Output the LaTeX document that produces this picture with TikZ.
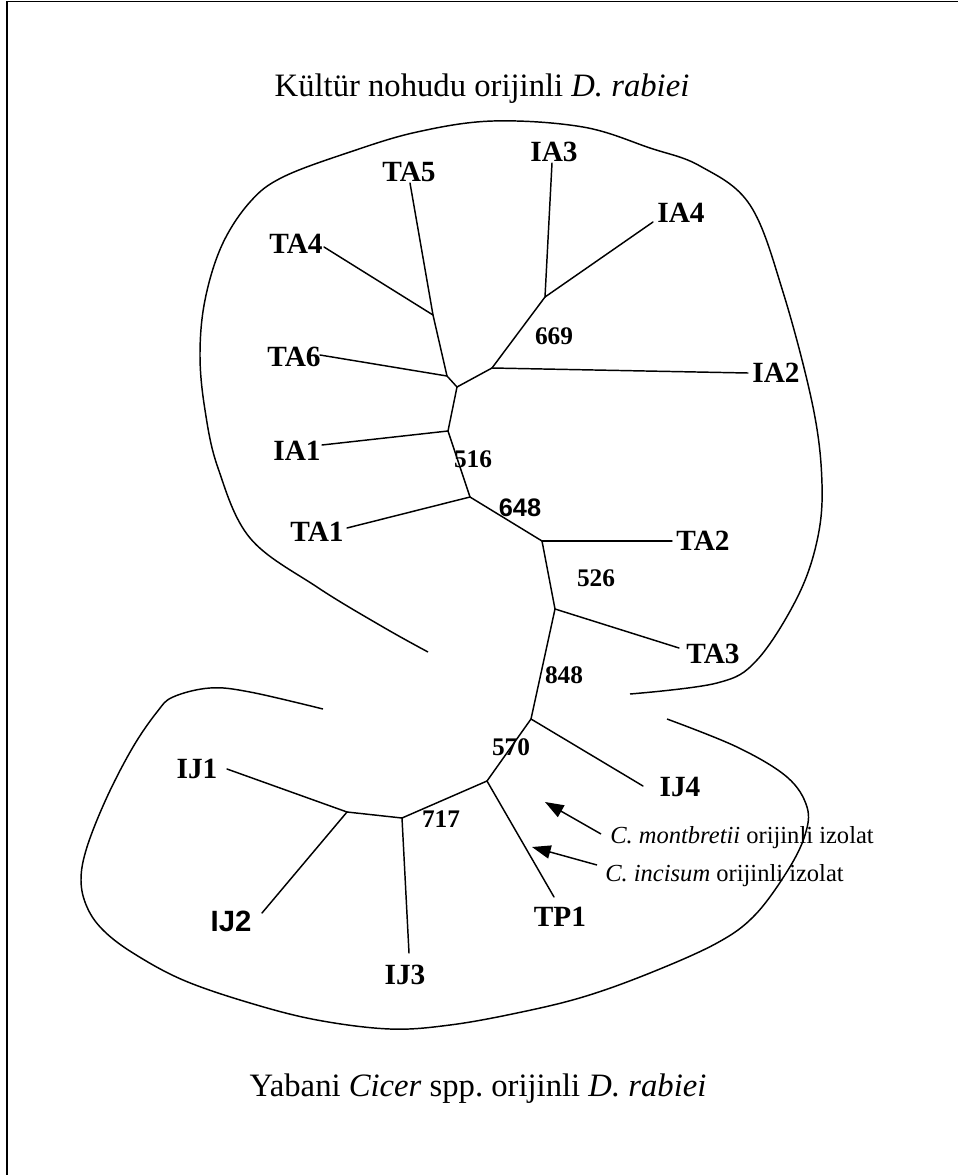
\documentclass[tikz,border=0pt]{standalone}
\usepackage{fontspec}
\setmainfont{Liberation Serif}
\newfontfamily\sansf{Liberation Sans}
\usetikzlibrary{arrows.meta}
\begin{document}
\begin{tikzpicture}[x=0.75pt,y=-0.75pt,
  edge/.style={line width=1.1pt, line cap=round},
  lab/.style={font=\fontsize{22}{24}\selectfont\bfseries, inner sep=0pt},
  labsans/.style={font=\fontsize{22}{24}\selectfont\sansf\bfseries, inner sep=0pt},
  num/.style={font=\fontsize{19}{21}\selectfont\bfseries, inner sep=0pt},
  numsans/.style={font=\fontsize{19}{21}\selectfont\sansf\bfseries, inner sep=0pt},
  ttl/.style={font=\fontsize{24.5}{27}\selectfont, inner sep=0pt, anchor=base},
  note/.style={font=\fontsize{18.4}{20}\selectfont, inner sep=0pt, anchor=base west},
  hull/.style={line width=1.1pt},
  pointer/.style={line width=1.1pt, -{Triangle[length=14pt,width=10pt]}}
]
\useasboundingbox (0,0) rectangle (958,1175);
\fill[white] (0,0) rectangle (958,1175);
% frame
\draw[line width=1pt] (7,1175) -- (7,1.5) -- (958,1.5);

% titles
\node[ttl] (top) at (482,96) {Kültür nohudu orijinli \textit{D. rabiei}};
\node[ttl] (bottom) at (478,1096) {Yabani \textit{Cicer} spp.\ orijinli \textit{D. rabiei}};

% junctions
\coordinate (J1) at (433,315);
\coordinate (J2) at (447,376);
\coordinate (J3) at (457,387);
\coordinate (J4) at (492,368);
\coordinate (J5) at (545,297);
\coordinate (J6) at (448,431);
\coordinate (J7) at (470,497);
\coordinate (J8) at (542,541);
\coordinate (J9) at (555,609);
\coordinate (J10) at (531,719);
\coordinate (J11) at (487,781);
\coordinate (J12) at (402,818);
\coordinate (J13) at (347,812);

% leaf tips
\coordinate (tTA5) at (410,183);
\coordinate (tTA4) at (324,247);
\coordinate (tTA6) at (320,355);
\coordinate (tIA3) at (552,163);
\coordinate (tIA4) at (653,222);
\coordinate (tIA2) at (748,373);
\coordinate (tIA1) at (322,445);
\coordinate (tTA1) at (347,528);
\coordinate (tTA2) at (672,541);
\coordinate (tTA3) at (679,648);
\coordinate (tIJ4) at (643,786);
\coordinate (tTP1) at (554,897);
\coordinate (tIJ3) at (409,953);
\coordinate (tIJ1) at (227,769);
\coordinate (tIJ2) at (262,913);

% leaf labels
\node[lab] (TA5) at (409,172) {TA5};
\node[lab] (TA4) at (296,244) {TA4};
\node[lab] (TA6) at (294,357) {TA6};
\node[lab] (IA3) at (554,152) {IA3};
\node[lab] (IA4) at (681,213) {IA4};
\node[lab] (IA2) at (776,373) {IA2};
\node[lab] (IA1) at (297,451) {IA1};
\node[lab] (TA1) at (317,532) {TA1};
\node[lab] (TA2) at (703,541) {TA2};
\node[lab] (TA3) at (713,654) {TA3};
\node[lab] (IJ4) at (680,787) {IJ4};
\node[lab] (TP1) at (560,917) {TP1};
\node[lab] (IJ3) at (405,975) {IJ3};
\node[lab] (IJ1) at (197,769) {IJ1};
\node[labsans] (IJ2) at (231,921) {IJ2};

% bootstrap values
\node[num] (b669) at (554,336) {669};
\node[num] (b516) at (473,459) {516};
\node[numsans] (b648) at (520,508) {648};
\node[num] (b526) at (596,578) {526};
\node[num] (b848) at (564,675) {848};
\node[num] (b570) at (511,747) {570};
\node[num] (b717) at (441,819) {717};

% tree edges
\draw[edge] (tTA5) -- (J1) -- (J2) -- (J3);
\draw[edge] (tTA4) -- (J1);
\draw[edge] (tTA6) -- (J2);
\draw[edge] (J3) -- (J4);
\draw[edge] (J4) -- (J5);
\draw[edge] (J5) -- (tIA3);
\draw[edge] (J5) -- (tIA4);
\draw[edge] (J4) -- (tIA2);
\draw[edge] (J3) -- (J6);
\draw[edge] (J6) -- (tIA1);
\draw[edge] (J6) -- (J7);
\draw[edge] (J7) -- (tTA1);
\draw[edge] (J7) -- (J8);
\draw[edge] (J8) -- (tTA2);
\draw[edge] (J8) -- (J9);
\draw[edge] (J9) -- (tTA3);
\draw[edge] (J9) -- (J10);
\draw[edge] (J10) -- (tIJ4);
\draw[edge] (J10) -- (J11);
\draw[edge] (J11) -- (tTP1);
\draw[edge] (J11) -- (J12);
\draw[edge] (J12) -- (tIJ3);
\draw[edge] (J12) -- (J13);
\draw[edge] (J13) -- (tIJ1);
\draw[edge] (J13) -- (tIJ2);

% group outlines
\draw[hull] plot[smooth, tension=0.6] coordinates {
  (630,694) (717,683) (757,660) (797,598) (817,541) (822,484) (813,407)
  (783,292) (750,205) (700,166) (650,148) (583,127) (493,121) (417,132)
  (350,152) (283,177) (250,202) (222,245) (205,300) (200,355) (205,410)
  (218,468) (250,538) (317,587) (383,627) (428,652)};
\draw[hull] plot[smooth, tension=0.6] coordinates {
  (323,709) (250,692) (210,688) (173,697) (157,712) (133,747) (107,797)
  (87,847) (81,880) (87,907) (103,930) (133,953) (183,980) (250,1003)
  (317,1020) (390,1029) (450,1025) (517,1013) (583,997) (650,973)
  (717,943) (755,915) (788,870) (805,835) (807,807) (787,777) (737,747)
  (667,719)};

% annotations
\node[note] (nM) at (610,843) {\textit{C. montbretii} orijinli izolat};
\node[note] (nI) at (605,881) {\textit{C. incisum} orijinli izolat};
\coordinate (aM) at (545,802);
\coordinate (aI) at (532,847);
\coordinate (sM) at (601,834);
\coordinate (sI) at (597,865);
\draw[pointer] (sM) -- (aM);
\draw[pointer] (sI) -- (aI);
\end{tikzpicture}
\end{document}
